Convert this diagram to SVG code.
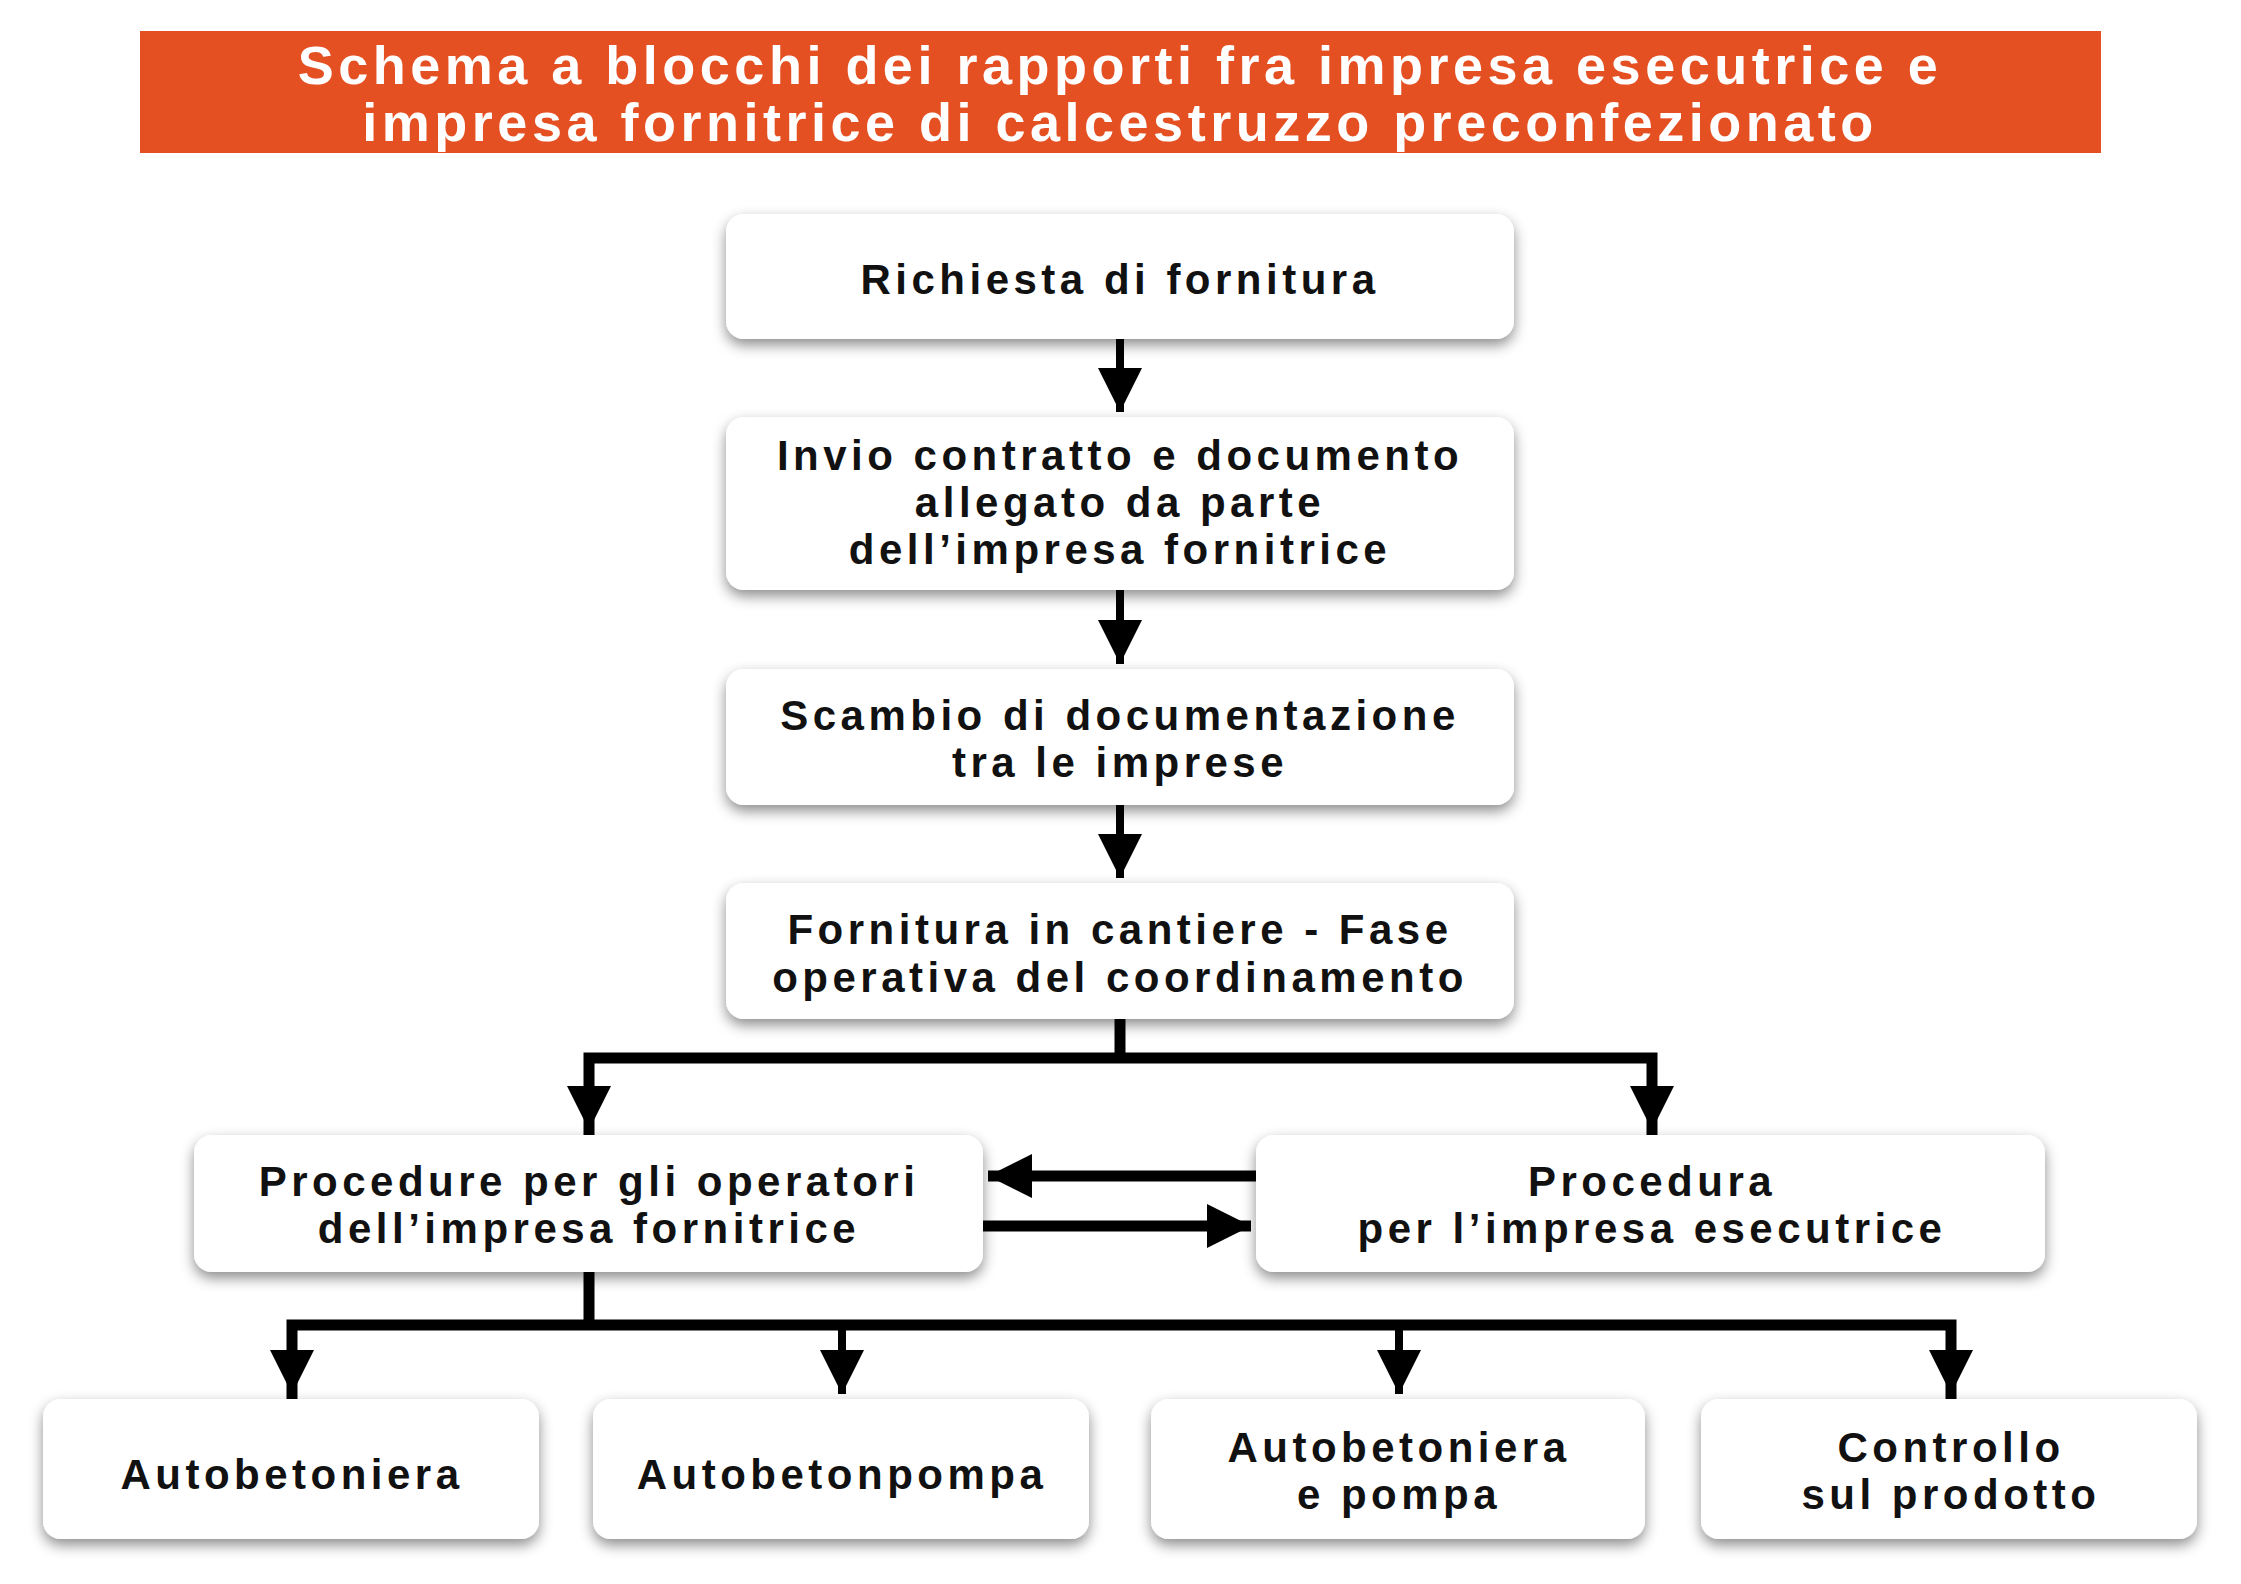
<svg xmlns="http://www.w3.org/2000/svg" width="2241" height="1584" viewBox="0 0 2241 1584">
<defs>
<style>
.box{fill:#fff;filter:url(#sh)}
.t{font-family:"Liberation Sans",Arial,sans-serif;font-weight:bold;font-size:42px;letter-spacing:4.5px;text-anchor:middle;fill:#111}
.h{font-family:"Liberation Sans",Arial,sans-serif;font-weight:bold;font-size:54px;letter-spacing:4.5px;text-anchor:middle;fill:#fff}
.ln{stroke:#000;stroke-width:8;fill:none}
.lt{stroke:#000;stroke-width:11;fill:none}
</style>
<filter id="sh" x="-10%" y="-20%" width="120%" height="150%"><feDropShadow dx="0" dy="6" stdDeviation="7" flood-color="#000" flood-opacity="0.45"/></filter>
<marker id="ah" viewBox="0 0 10 10" refX="10" refY="5" markerWidth="6" markerHeight="5.5" markerUnits="strokeWidth" orient="auto"><path d="M0,0L10,5L0,10z" fill="#000"/></marker>
<marker id="ah2" viewBox="0 0 10 10" refX="10" refY="5" markerWidth="4" markerHeight="5" markerUnits="strokeWidth" orient="auto"><path d="M0,0L10,5L0,10z" fill="#000"/></marker>
</defs>
<rect width="2241" height="1584" fill="#fff"/>
<g id="title">
<rect x="140" y="31" width="1961" height="122" fill="#e55022"/>
<text class="h" x="1120" y="84">Schema a blocchi dei rapporti fra impresa esecutrice e</text>
<text class="h" x="1120" y="141">impresa fornitrice di calcestruzzo preconfezionato</text>
</g>
<g id="connectors">
<path class="ln" d="M1120,339V412" marker-end="url(#ah)"/>
<path class="ln" d="M1120,590V664" marker-end="url(#ah)"/>
<path class="ln" d="M1120,805V878" marker-end="url(#ah)"/>
<path class="lt" d="M1120,1019V1058"/>
<path class="lt" d="M589,1135V1058H1652V1135"/>
<path class="ln" d="M589,1090V1130" marker-end="url(#ah)"/>
<path class="ln" d="M1652,1090V1130" marker-end="url(#ah)"/>
<path class="lt" d="M1256,1176H988" marker-end="url(#ah2)"/>
<path class="lt" d="M983,1226H1251" marker-end="url(#ah2)"/>
<path class="lt" d="M589,1272V1325"/>
<path class="lt" d="M292,1399V1325H1951V1399"/>
<path class="ln" d="M292,1350V1394" marker-end="url(#ah)"/>
<path class="ln" d="M842,1330V1394" marker-end="url(#ah)"/>
<path class="ln" d="M1399,1330V1394" marker-end="url(#ah)"/>
<path class="ln" d="M1951,1350V1394" marker-end="url(#ah)"/>
</g>
<g id="n1"><rect class="box" x="726" y="214" width="788" height="125" rx="18"/><text class="t" x="1120" y="294">Richiesta di fornitura</text></g>
<g id="n2"><rect class="box" x="726" y="417" width="788" height="173" rx="18"/><text class="t" x="1120" y="470">Invio contratto e documento</text><text class="t" x="1120" y="517">allegato da parte</text><text class="t" x="1120" y="564">dell’impresa fornitrice</text></g>
<g id="n3"><rect class="box" x="726" y="669" width="788" height="136" rx="18"/><text class="t" x="1120" y="730">Scambio di documentazione</text><text class="t" x="1120" y="777">tra le imprese</text></g>
<g id="n4"><rect class="box" x="726" y="883" width="788" height="136" rx="18"/><text class="t" x="1120" y="944">Fornitura in cantiere - Fase</text><text class="t" x="1120" y="992">operativa del coordinamento</text></g>
<g id="n5"><rect class="box" x="194" y="1135" width="789" height="137" rx="18"/><text class="t" x="589" y="1196">Procedure per gli operatori</text><text class="t" x="589" y="1243">dell’impresa fornitrice</text></g>
<g id="n6"><rect class="box" x="1256" y="1135" width="789" height="137" rx="18"/><text class="t" x="1652" y="1196">Procedura</text><text class="t" x="1652" y="1243">per l’impresa esecutrice</text></g>
<g id="n7"><rect class="box" x="43" y="1399" width="496" height="140" rx="18"/><text class="t" x="292" y="1489">Autobetoniera</text></g>
<g id="n8"><rect class="box" x="593" y="1399" width="496" height="140" rx="18"/><text class="t" x="842" y="1489">Autobetonpompa</text></g>
<g id="n9"><rect class="box" x="1151" y="1399" width="494" height="140" rx="18"/><text class="t" x="1399" y="1462">Autobetoniera</text><text class="t" x="1399" y="1509">e pompa</text></g>
<g id="n10"><rect class="box" x="1701" y="1399" width="496" height="140" rx="18"/><text class="t" x="1951" y="1462">Controllo</text><text class="t" x="1951" y="1509">sul prodotto</text></g>
</svg>
